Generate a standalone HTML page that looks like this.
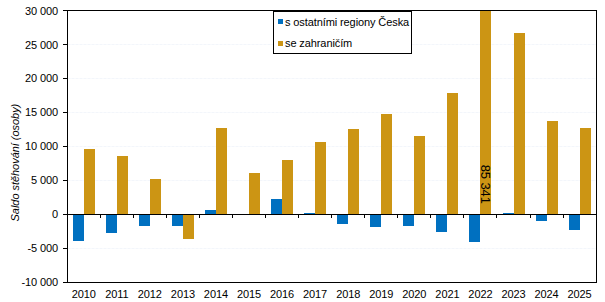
<!DOCTYPE html>
<html><head><meta charset="utf-8"><style>
html,body{margin:0;padding:0;background:#fff;width:605px;height:302px;overflow:hidden}
svg{display:block}
.t{font-family:"Liberation Sans",sans-serif;font-size:11px;fill:#000;letter-spacing:-0.1px}
</style></head><body>
<svg width="605" height="302" viewBox="0 0 605 302" shape-rendering="crispEdges">
<rect x="68" y="10" width="528" height="1" fill="#f8fafd"/>
<line x1="68" y1="10.5" x2="596" y2="10.5" stroke="#f3f6fb" stroke-width="1" stroke-dasharray="2,2"/>
<rect x="68" y="44" width="528" height="1" fill="#f8fafd"/>
<line x1="68" y1="44.5" x2="596" y2="44.5" stroke="#f3f6fb" stroke-width="1" stroke-dasharray="2,2"/>
<rect x="68" y="78" width="528" height="1" fill="#f8fafd"/>
<line x1="68" y1="78.5" x2="596" y2="78.5" stroke="#f3f6fb" stroke-width="1" stroke-dasharray="2,2"/>
<rect x="68" y="112" width="528" height="1" fill="#f8fafd"/>
<line x1="68" y1="112.5" x2="596" y2="112.5" stroke="#f3f6fb" stroke-width="1" stroke-dasharray="2,2"/>
<rect x="68" y="146" width="528" height="1" fill="#f8fafd"/>
<line x1="68" y1="146.5" x2="596" y2="146.5" stroke="#f3f6fb" stroke-width="1" stroke-dasharray="2,2"/>
<rect x="68" y="180" width="528" height="1" fill="#f8fafd"/>
<line x1="68" y1="180.5" x2="596" y2="180.5" stroke="#f3f6fb" stroke-width="1" stroke-dasharray="2,2"/>
<rect x="68" y="214" width="528" height="1" fill="#f8fafd"/>
<line x1="68" y1="214.5" x2="596" y2="214.5" stroke="#f3f6fb" stroke-width="1" stroke-dasharray="2,2"/>
<rect x="68" y="248" width="528" height="1" fill="#f8fafd"/>
<line x1="68" y1="248.5" x2="596" y2="248.5" stroke="#f3f6fb" stroke-width="1" stroke-dasharray="2,2"/>
<rect x="68" y="282" width="528" height="1" fill="#f8fafd"/>
<line x1="68" y1="282.5" x2="596" y2="282.5" stroke="#f3f6fb" stroke-width="1" stroke-dasharray="2,2"/>
<rect x="73" y="215" width="11" height="26" fill="#0070c0"/>
<rect x="84" y="149" width="11" height="65" fill="#cc9514"/>
<rect x="106" y="215" width="11" height="18" fill="#0070c0"/>
<rect x="117" y="156" width="11" height="58" fill="#cc9514"/>
<rect x="139" y="215" width="11" height="11" fill="#0070c0"/>
<rect x="150" y="179" width="11" height="35" fill="#cc9514"/>
<rect x="172" y="215" width="11" height="11" fill="#0070c0"/>
<rect x="183" y="215" width="11" height="24" fill="#cc9514"/>
<rect x="205" y="210" width="11" height="4" fill="#0070c0"/>
<rect x="216" y="128" width="11" height="86" fill="#cc9514"/>
<rect x="249" y="173" width="11" height="41" fill="#cc9514"/>
<rect x="271" y="199" width="11" height="15" fill="#0070c0"/>
<rect x="282" y="160" width="11" height="54" fill="#cc9514"/>
<rect x="304" y="213" width="11" height="1" fill="#0070c0"/>
<rect x="315" y="142" width="11" height="72" fill="#cc9514"/>
<rect x="337" y="215" width="11" height="9" fill="#0070c0"/>
<rect x="348" y="129" width="11" height="85" fill="#cc9514"/>
<rect x="370" y="215" width="11" height="12" fill="#0070c0"/>
<rect x="381" y="114" width="11" height="100" fill="#cc9514"/>
<rect x="403" y="215" width="11" height="11" fill="#0070c0"/>
<rect x="414" y="136" width="11" height="78" fill="#cc9514"/>
<rect x="436" y="215" width="11" height="17" fill="#0070c0"/>
<rect x="447" y="93" width="11" height="121" fill="#cc9514"/>
<rect x="469" y="215" width="11" height="27" fill="#0070c0"/>
<rect x="480" y="10" width="11" height="204" fill="#cc9514"/>
<rect x="503" y="213" width="11" height="1" fill="#0070c0"/>
<rect x="514" y="33" width="11" height="181" fill="#cc9514"/>
<rect x="536" y="215" width="11" height="6" fill="#0070c0"/>
<rect x="547" y="121" width="11" height="93" fill="#cc9514"/>
<rect x="569" y="215" width="11" height="15" fill="#0070c0"/>
<rect x="580" y="128" width="11" height="86" fill="#cc9514"/>
<rect x="67" y="10" width="530" height="1" fill="#000"/>
<rect x="67" y="282" width="530" height="1" fill="#000"/>
<rect x="67" y="10" width="1" height="273" fill="#000"/>
<rect x="596" y="10" width="1" height="273" fill="#000"/>
<rect x="67" y="214" width="530" height="1" fill="#000"/>
<rect x="63" y="10" width="4" height="1" fill="#000"/>
<rect x="63" y="44" width="4" height="1" fill="#000"/>
<rect x="63" y="78" width="4" height="1" fill="#000"/>
<rect x="63" y="112" width="4" height="1" fill="#000"/>
<rect x="63" y="146" width="4" height="1" fill="#000"/>
<rect x="63" y="180" width="4" height="1" fill="#000"/>
<rect x="63" y="214" width="4" height="1" fill="#000"/>
<rect x="63" y="248" width="4" height="1" fill="#000"/>
<rect x="63" y="282" width="4" height="1" fill="#000"/>
<rect x="100" y="215" width="1" height="3" fill="#000"/>
<rect x="133" y="215" width="1" height="3" fill="#000"/>
<rect x="166" y="215" width="1" height="3" fill="#000"/>
<rect x="199" y="215" width="1" height="3" fill="#000"/>
<rect x="232" y="215" width="1" height="3" fill="#000"/>
<rect x="265" y="215" width="1" height="3" fill="#000"/>
<rect x="298" y="215" width="1" height="3" fill="#000"/>
<rect x="331" y="215" width="1" height="3" fill="#000"/>
<rect x="364" y="215" width="1" height="3" fill="#000"/>
<rect x="397" y="215" width="1" height="3" fill="#000"/>
<rect x="430" y="215" width="1" height="3" fill="#000"/>
<rect x="463" y="215" width="1" height="3" fill="#000"/>
<rect x="496" y="215" width="1" height="3" fill="#000"/>
<rect x="530" y="215" width="1" height="3" fill="#000"/>
<rect x="563" y="215" width="1" height="3" fill="#000"/>
<text x="58" y="15" text-anchor="end" class="t">30 000</text>
<text x="58" y="49" text-anchor="end" class="t">25 000</text>
<text x="58" y="82" text-anchor="end" class="t">20 000</text>
<text x="58" y="116" text-anchor="end" class="t">15 000</text>
<text x="58" y="150" text-anchor="end" class="t">10 000</text>
<text x="58" y="184" text-anchor="end" class="t">5 000</text>
<text x="58" y="218" text-anchor="end" class="t">0</text>
<text x="58" y="252" text-anchor="end" class="t">-5 000</text>
<text x="58" y="286" text-anchor="end" class="t">-10 000</text>
<text x="83.7" y="298" text-anchor="middle" class="t">2010</text>
<text x="116.8" y="298" text-anchor="middle" class="t">2011</text>
<text x="149.8" y="298" text-anchor="middle" class="t">2012</text>
<text x="182.9" y="298" text-anchor="middle" class="t">2013</text>
<text x="215.9" y="298" text-anchor="middle" class="t">2014</text>
<text x="249.0" y="298" text-anchor="middle" class="t">2015</text>
<text x="282.1" y="298" text-anchor="middle" class="t">2016</text>
<text x="315.1" y="298" text-anchor="middle" class="t">2017</text>
<text x="348.2" y="298" text-anchor="middle" class="t">2018</text>
<text x="381.3" y="298" text-anchor="middle" class="t">2019</text>
<text x="414.3" y="298" text-anchor="middle" class="t">2020</text>
<text x="447.4" y="298" text-anchor="middle" class="t">2021</text>
<text x="480.4" y="298" text-anchor="middle" class="t">2022</text>
<text x="513.5" y="298" text-anchor="middle" class="t">2023</text>
<text x="546.6" y="298" text-anchor="middle" class="t">2024</text>
<text x="579.6" y="298" text-anchor="middle" class="t">2025</text>
<text transform="translate(18.6,162.6) rotate(-90)" text-anchor="middle" class="t" style="font-style:italic;letter-spacing:-0.04px">Saldo stěhování (osoby)</text>
<text transform="translate(481,184.3) rotate(90)" text-anchor="middle" class="t" style="font-size:13px">85 341</text>
<rect x="273.5" y="11.5" width="138" height="42" fill="#fff" stroke="#000" stroke-width="1"/>
<rect x="278" y="19" width="5" height="5" fill="#0070c0"/>
<rect x="278" y="41" width="5" height="5" fill="#cc9514"/>
<text x="285" y="26" class="t">s ostatními regiony Česka</text>
<text x="285" y="47" class="t">se zahraničím</text>
</svg>
</body></html>
